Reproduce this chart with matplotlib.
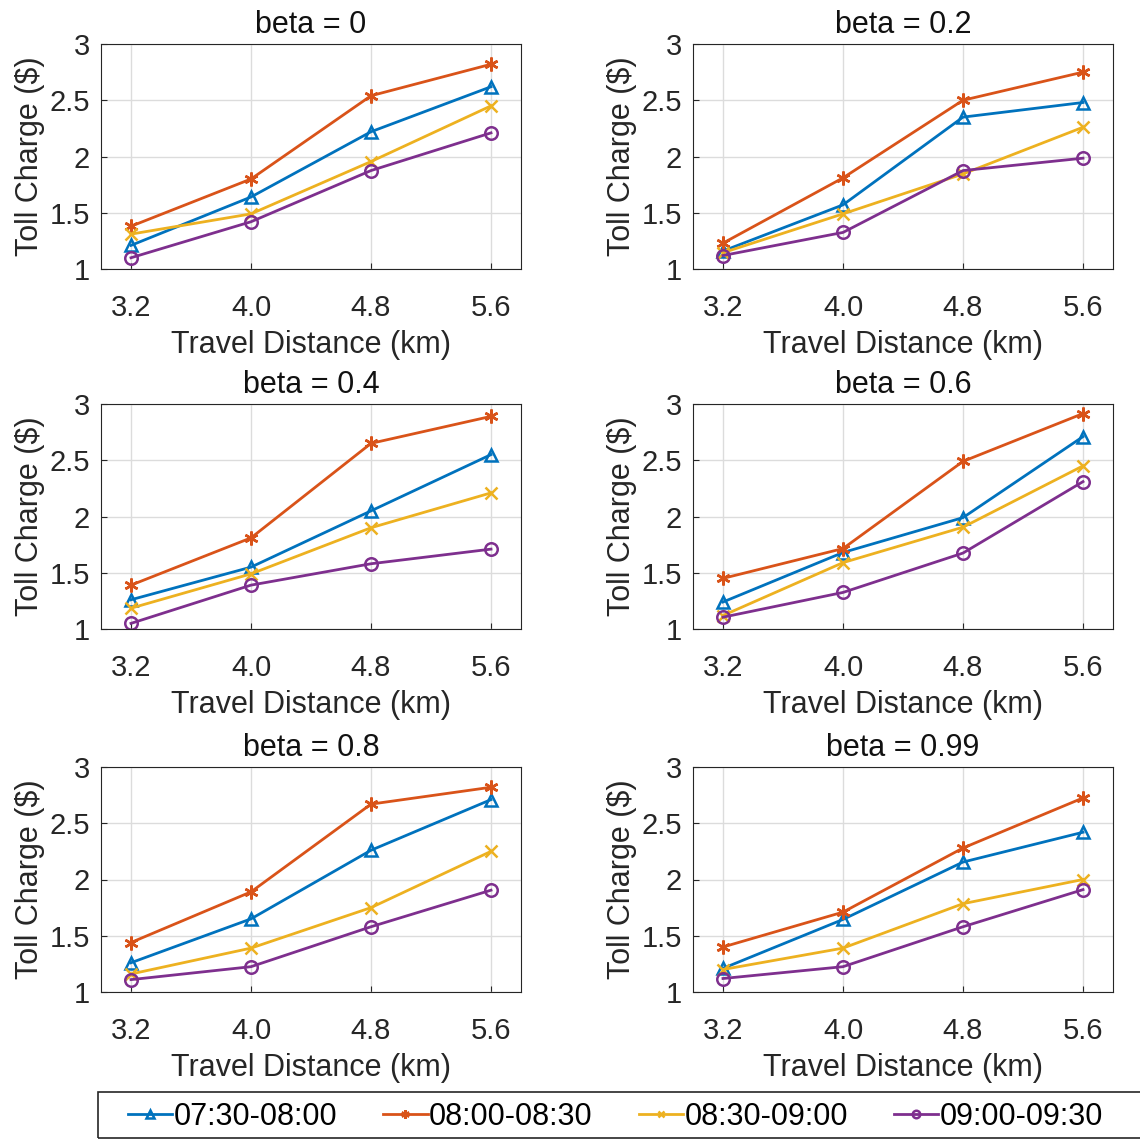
import numpy as np
import matplotlib
matplotlib.use('Agg')
import matplotlib.pyplot as plt
from matplotlib.patches import Rectangle

plt.rcParams['font.family'] = ['Liberation Sans', 'DejaVu Sans']

# data
distance = [3.2, 4.0, 4.8, 5.6]
dist_labels = ['3.2', '4.0', '4.8', '5.6']
betas = ['0', '0.2', '0.4', '0.6', '0.8', '0.99']
periods = ['07:30-08:00', '08:00-08:30', '08:30-09:00', '09:00-09:30']

toll_0730 = [
    [1.21, 1.64, 2.22, 2.62],
    [1.16, 1.57, 2.35, 2.48],
    [1.26, 1.55, 2.05, 2.55],
    [1.24, 1.68, 1.99, 2.71],
    [1.26, 1.65, 2.26, 2.71],
    [1.21, 1.645, 2.155, 2.42],
]
toll_0800 = [
    [1.38, 1.80, 2.54, 2.82],
    [1.23, 1.81, 2.50, 2.75],
    [1.39, 1.81, 2.65, 2.89],
    [1.45, 1.715, 2.49, 2.915],
    [1.44, 1.89, 2.67, 2.82],
    [1.40, 1.71, 2.28, 2.725],
]
toll_0830 = [
    [1.31, 1.49, 1.955, 2.45],
    [1.145, 1.49, 1.845, 2.26],
    [1.185, 1.49, 1.90, 2.21],
    [1.12, 1.59, 1.905, 2.45],
    [1.16, 1.39, 1.75, 2.25],
    [1.20, 1.39, 1.785, 2.0],
]
toll_0900 = [
    [1.10, 1.42, 1.875, 2.21],
    [1.12, 1.325, 1.875, 1.985],
    [1.05, 1.39, 1.58, 1.71],
    [1.105, 1.325, 1.675, 2.31],
    [1.11, 1.225, 1.58, 1.905],
    [1.12, 1.225, 1.58, 1.91],
]

series = [toll_0730, toll_0800, toll_0830, toll_0900]
colors = ['#0072BD', '#D95319', '#EDB120', '#7E2F8E']
markers = ['^', (6, 2, 0), 'x', 'o']
msizes = [9, 10, 8, 9]

fig = plt.figure(figsize=(11.4, 11.39), dpi=100)
W, H = 1140, 1139
lefts = [101, 693]
width = 420
tops = [44, 404, 767]
height = 225

lines = []
for i, b in enumerate(betas):
    r, c = divmod(i, 2)
    ax = fig.add_axes([lefts[c] / W, 1 - (tops[r] + height) / H, width / W, height / H])
    for s, col, m, ms in zip(series, colors, markers, msizes):
        ln, = ax.plot(distance, s[i], color=col, marker=m, markersize=ms,
                      markerfacecolor='none', markeredgewidth=1.8, linewidth=2)
        if i == 0:
            lines.append(ln)
    ax.set_xlim(3.0, 5.8)
    ax.set_ylim(1, 3)
    ax.set_xticks(distance)
    ax.set_xticklabels(dist_labels)
    ax.set_yticks([1, 1.5, 2, 2.5, 3])
    ax.set_yticklabels(['1', '1.5', '2', '2.5', '3'])
    ax.tick_params(direction='in', labelsize=21, colors='#262626', length=4)
    ax.tick_params(axis='x', pad=18)
    ax.tick_params(axis='y', pad=8)
    ax.grid(True, color='#dcdcdc', linewidth=1)
    ax.set_axisbelow(True)
    for sp in ax.spines.values():
        sp.set_color('#262626')
    ax.set_title('beta = ' + b, fontsize=22, color='#111111', pad=8)
    ax.set_xlabel('Travel Distance (km)', fontsize=22, color='#262626', labelpad=6)
    ax.set_ylabel('Toll Charge ($)', fontsize=22, color='#262626', labelpad=3)

# legend box (MATLAB style, wide and short)
fig.patches.append(Rectangle((98 / W, 1 - 1138 / H), 1100 / W, 46 / H,
                             transform=fig.transFigure, fill=False,
                             edgecolor='#262626', linewidth=1.2))
fig.legend(lines, periods, loc='center left', ncol=4, fontsize=22,
           bbox_to_anchor=(128 / W, 1 - 1117 / H), frameon=False,
           handlelength=1.45, handletextpad=0.05, columnspacing=1.5,
           markerscale=0.6, borderpad=0, borderaxespad=0)

fig.savefig('out.png', dpi=100)
